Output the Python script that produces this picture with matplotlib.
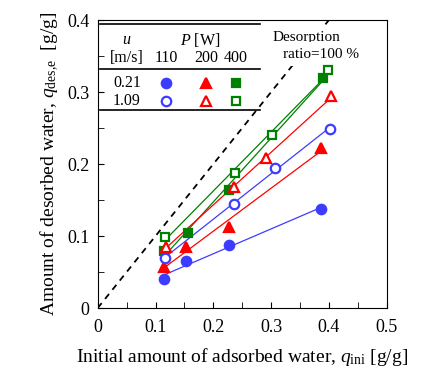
import numpy as np
import matplotlib
matplotlib.use("Agg")
import matplotlib.pyplot as plt

plt.rcParams['font.family'] = ['Liberation Serif', 'DejaVu Serif']
plt.rcParams['mathtext.fontset'] = 'custom'
plt.rcParams['mathtext.rm'] = 'Liberation Serif'
plt.rcParams['mathtext.it'] = 'Liberation Serif:italic'

# data: q_ini [g/g] vs q_des,e [g/g]
x_c021 = [0.115, 0.153, 0.228, 0.386]
y_c021 = [0.040, 0.065, 0.087, 0.138]
x_t021 = [0.115, 0.153, 0.227, 0.387]
y_t021 = [0.057, 0.085, 0.112, 0.222]
x_s021 = [0.114, 0.156, 0.227, 0.389]
y_s021 = [0.079, 0.104, 0.164, 0.319]
x_c109 = [0.116, 0.236, 0.306, 0.402]
y_c109 = [0.070, 0.144, 0.195, 0.249]
x_t109 = [0.118, 0.236, 0.291, 0.404]
y_t109 = [0.085, 0.168, 0.208, 0.294]
x_s109 = [0.117, 0.237, 0.301, 0.399]
y_s109 = [0.099, 0.188, 0.241, 0.330]

blue = '#3c3cff'
red = '#ff0000'
green = '#008000'

series = [
    (x_c021, y_c021, 'o', blue, True),
    (x_t021, y_t021, '^', red, True),
    (x_s021, y_s021, 's', green, True),
    (x_c109, y_c109, 'o', blue, False),
    (x_t109, y_t109, '^', red, False),
    (x_s109, y_s109, 's', green, False),
]

fig = plt.figure(figsize=(4.35, 3.78), dpi=100)
ax = fig.add_axes([0.2246, 0.185, 0.6644, 0.762])

# 100 % desorption line
ax.plot([0, 0.4], [0, 0.4], 'k--', lw=1.3, dashes=(3.5, 3), zorder=1)

for xs, ys, mk, col, filled in series:
    xs = np.array(xs)
    ys = np.array(ys)
    k, b = np.polyfit(xs, ys, 1)
    xl = np.array([xs.min(), xs.max()])
    ax.plot(xl, k * xl + b, '-', color=col, lw=0.9, zorder=3)
    ax.plot(xs, ys, mk, color=col, ms=6.8 if mk != 's' else 6.2,
            mfc=col if filled else 'white', mew=1.6, ls='none', zorder=4)

ax.set_xlim(0, 0.5)
ax.set_ylim(0, 0.4)
ax.set_xticks(np.arange(0, 0.51, 0.1))
ax.set_xticklabels(['0', '0.1', '0.2', '0.3', '0.4', '0.5'])
ax.set_yticks(np.arange(0, 0.41, 0.1))
ax.set_yticklabels(['0', '0.1', '0.2', '0.3', '0.4'])
ax.set_xticks(np.arange(0.05, 0.5, 0.1), minor=True)
ax.set_yticks(np.arange(0.05, 0.4, 0.1), minor=True)
ax.tick_params(which='both', direction='in', labelsize=13, top=False, right=False)
ax.tick_params(which='major', length=4)
ax.tick_params(which='minor', length=4)
ax.tick_params(axis='x', pad=8)
ax.tick_params(axis='y', pad=6)

ax.set_xlabel(r'Initial amount of adsorbed water, $q_{\rm ini}$ [g/g]', fontsize=14, labelpad=7)
ax.set_ylabel(r'Amount of desorbed water, $q_{\rm des{,}e}$  [g/g]', fontsize=14, labelpad=4)

T = ax.transAxes
box = dict(facecolor='white', edgecolor='none', pad=4)
ax.text(0.721, 0.941, 'Desorption', transform=T, ha='center', va='center', fontsize=11,
        bbox=box, zorder=2)
ax.text(0.773, 0.882, 'ratio=100 %', transform=T, ha='center', va='center', fontsize=11,
        bbox=box, zorder=2)

# legend table
for yl in [0.986, 0.83, 0.6875]:
    ax.plot([0.008, 0.562], [yl, yl], color='k', lw=1.2, transform=T)
fs = 11.5
ax.text(0.101, 0.931, '$u$', transform=T, ha='center', va='center', fontsize=fs)
ax.text(0.353, 0.931, '$P$ [W]', transform=T, ha='center', va='center', fontsize=fs)
ax.text(0.101, 0.868, '[m/s]', transform=T, ha='center', va='center', fontsize=fs)
col_x = [0.236, 0.375, 0.479]
for cx, lab in zip(col_x, ['110', '200', '400']):
    ax.text(cx, 0.868, lab, transform=T, ha='center', va='center', fontsize=fs)
ax.text(0.101, 0.781, '0.21', transform=T, ha='center', va='center', fontsize=fs)
ax.text(0.101, 0.719, '1.09', transform=T, ha='center', va='center', fontsize=fs)
for i, (xs, ys, mk, col, filled) in enumerate(series):
    cx = col_x[i % 3]
    cy = 0.781 if filled else 0.719
    ax.plot([cx], [cy], mk, color=col, ms=6.8 if mk != 's' else 6.2,
            mfc=col if filled else 'white', mew=1.6, transform=T)

fig.savefig('out.png', dpi=100)
